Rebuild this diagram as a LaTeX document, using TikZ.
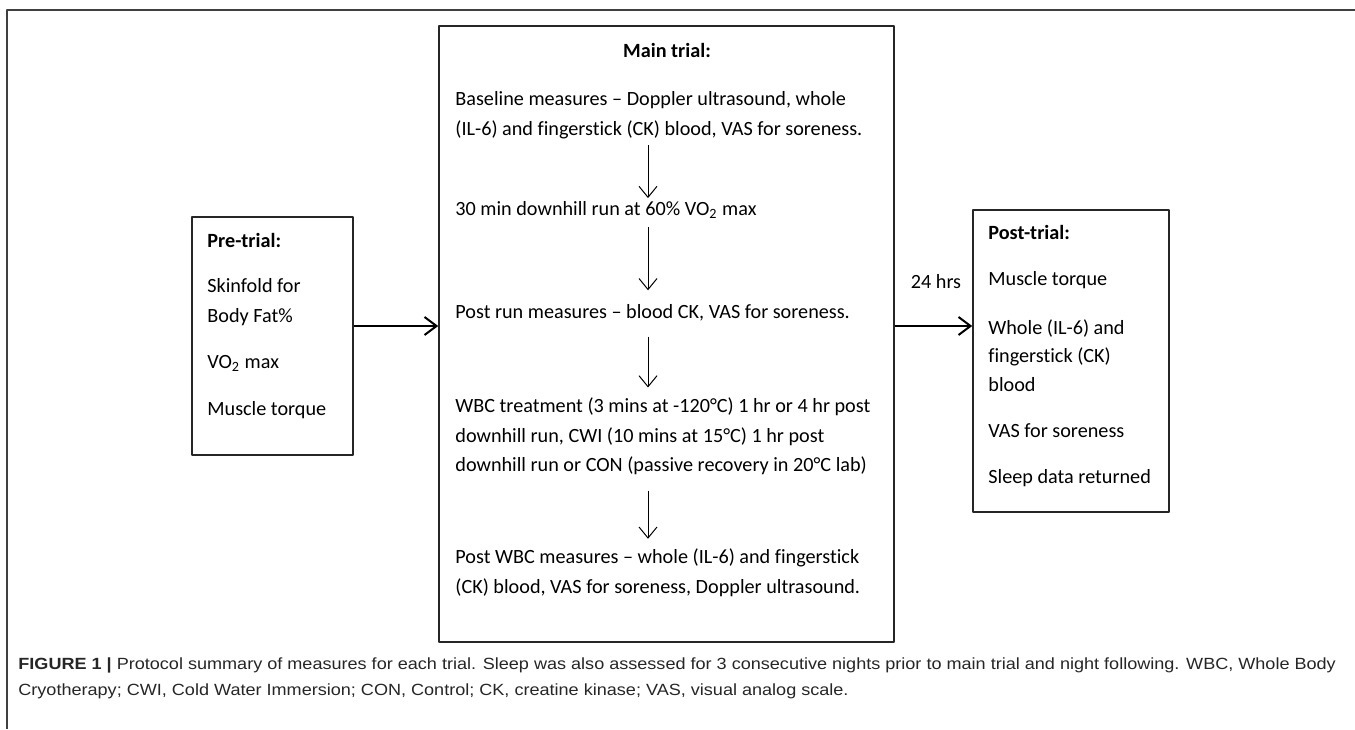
\documentclass[tikz,border=0pt]{standalone}
\usepackage{fontspec}
\setmainfont{Carlito}[Ligatures=NoCommon]
\newfontfamily\capfont{Liberation Sans}[FakeStretch=1.115]
\usetikzlibrary{arrows.meta}
\begin{document}
\begin{tikzpicture}[x=0.5pt, y=-0.5pt, font=\fontsize{10.1}{14.8}\selectfont, line join=round,
	box/.style={draw=black!85, line width=0.8pt, inner sep=0pt},
	txt/.style={anchor=west, align=left, inner sep=0pt},
	arr/.style={-{Straight Barb[length=6pt,width=9pt]}, line width=1pt},
	varr/.style={-{Straight Barb[length=5.5pt,width=9pt]}, line width=0.5pt}]
	\useasboundingbox (0,0) rectangle (1355,729);
	\draw[black!75, line width=0.8pt] (1355,10) -- (7,10) -- (7,729);
	% boxes
	\node[box, minimum width=80.5pt, minimum height=119pt] (pre) at (272.5,336) {};
	\node[box, minimum width=227.5pt, minimum height=308pt] (main) at (666.5,334) {};
	\node[box, minimum width=98pt, minimum height=151pt] (post) at (1071,361) {};
	% pre-trial
	\node[txt] (prehead) at (207,240) {\textbf{Pre-trial:}};
	\node[txt] (skin) at (207,302) {Skinfold for\\Body Fat\%};
	\node[txt] (vo) at (207,363) {VO\textsubscript{2} max};
	\node[txt] (torq) at (207,410) {Muscle torque};
	% main trial
	\node[inner sep=0pt] (mainhead) at (667,50) {\textbf{Main trial:}};
	\node[txt] (base) at (455,115) {Baseline measures -- Doppler ultrasound, whole\\(IL-6) and fingerstick (CK) blood, VAS for soreness.};
	\node[txt] (run) at (455,210) {30 min downhill run at 60\% VO\textsubscript{2} max};
	\node[txt] (postrun) at (455,313) {Post run measures -- blood CK, VAS for soreness.};
	\node[txt] (wbc) at (455,436.5) {WBC treatment (3 mins at -120°C) 1 hr or 4 hr post\\downhill run, CWI (10 mins at 15°C) 1 hr post\\downhill run or CON (passive recovery in 20°C lab)};
	\node[txt] (postwbc) at (455,573) {Post WBC measures -- whole (IL-6) and fingerstick\\(CK) blood, VAS for soreness, Doppler ultrasound.};
	\coordinate (ax) at (648,0);
	\draw[varr] (base.south -| ax) ++(0,6) -- ([yshift=1.5pt]run.north -| ax);
	\draw[varr] (run.south -| ax) ++(0,8) -- ([yshift=7pt]postrun.north -| ax);
	\draw[varr] (postrun.south -| ax) ++(0,15) -- ([yshift=5pt]wbc.north -| ax);
	\draw[varr] (wbc.south -| ax) ++(0,15) -- ([yshift=5pt]postwbc.north -| ax);
	% post-trial
	\node[txt] (posthead) at (988,232) {\textbf{Post-trial:}};
	\node[txt] (ptorq) at (988,280) {Muscle torque};
	\node[txt, font=\fontsize{10.1}{14.25}\selectfont] (blood) at (988,355.5) {Whole (IL-6) and\\fingerstick (CK)\\blood};
	\node[txt] (vas) at (988,431) {VAS for soreness};
	\node[txt] (sleep) at (988,478) {Sleep data returned};
	% connectors
	\coordinate (lvl) at (0,326);
	\draw[arr] (pre.east |- lvl) -- (main.west |- lvl);
	\draw[arr] (main.east |- lvl) -- (post.west |- lvl);
	\node[inner sep=0pt] (hrs) at (936,282) {24 hrs};
	% caption
	\node[txt, font=\capfont\fontsize{8.1}{13}\selectfont, text=black!85] (cap) at (18,678) {\textbf{FIGURE 1 |} Protocol summary of measures for each trial. Sleep was also assessed for 3 consecutive nights prior to main trial and night following. WBC, Whole Body\\Cryotherapy; CWI, Cold Water Immersion; CON, Control; CK, creatine kinase; VAS, visual analog scale.};
\end{tikzpicture}
\end{document}
